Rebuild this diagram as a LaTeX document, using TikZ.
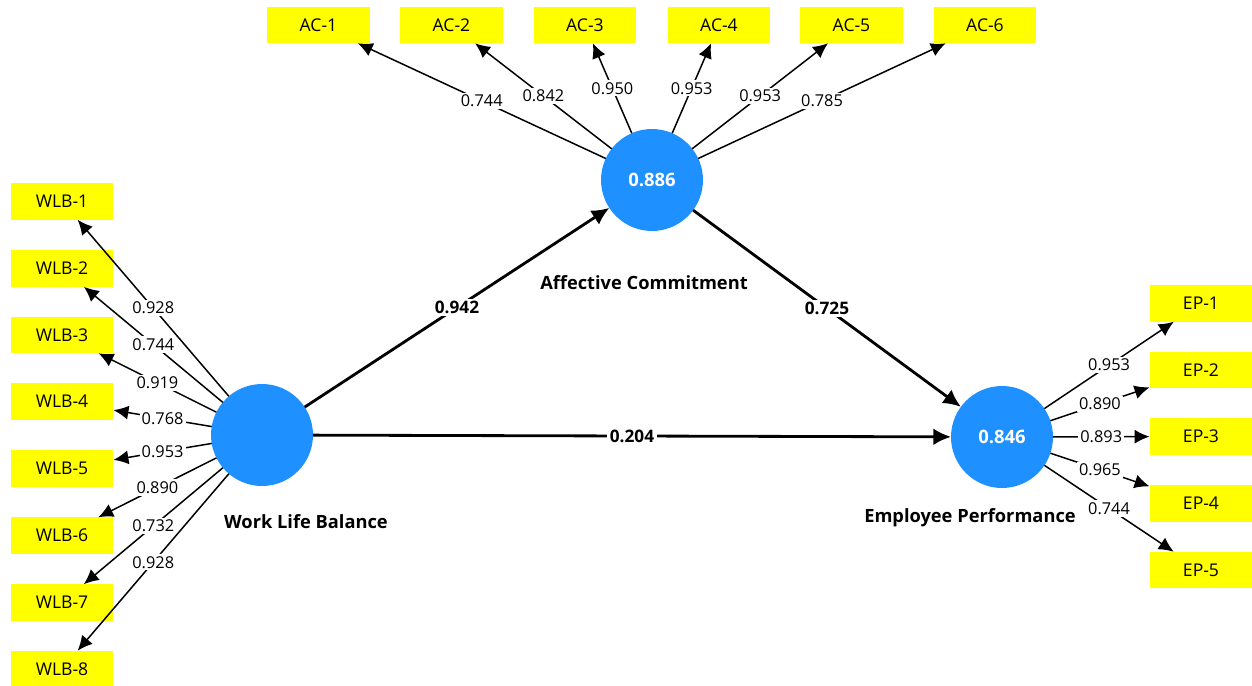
\documentclass[tikz,border=0pt]{standalone}
\usepackage{fontspec}
\setmainfont{Open Sans}
\usetikzlibrary{arrows.meta}
\definecolor{indyellow}{RGB}{255,255,0}
\definecolor{latblue}{RGB}{30,144,255}
\tikzset{
  indicator/.style={fill=indyellow, draw=none, minimum width=2.06cm, minimum height=0.73cm,
    inner sep=0pt, outer sep=0pt, font=\fontsize{10}{12}\selectfont},
  latent/.style={circle, fill=latblue, draw=none, minimum size=2.04cm, inner sep=0pt,
    outer sep=0pt, text=white, font=\fontsize{10.5}{12}\selectfont\bfseries},
  title/.style={font=\fontsize{10.4}{12}\selectfont\bfseries},
  loading/.style={draw=black, line width=0.85pt, -{Latex[length=8.5pt,width=8pt]}},
  pathc/.style={draw=black, line width=1.6pt, -{Latex[length=10pt,width=9.5pt]}},
  lval/.style={fill=white, inner sep=1.2pt, font=\fontsize{9.3}{10}\selectfont},
  pval/.style={fill=white, inner sep=1.5pt, font=\fontsize{9.8}{11}\selectfont\bfseries},
}
\begin{document}
\begin{tikzpicture}[x=0.02cm, y=-0.02cm]
\useasboundingbox (0,0) rectangle (1252,686);

% latent variables
\node[latent] (wlb) at (262,435) {};
\node[latent] (ac)  at (652,180) {0.886};
\node[latent] (ep)  at (1002,437) {0.846};

\node[title] (wlbt) at (306,522) {Work Life Balance};
\node[title] (act)  at (644,283) {Affective Commitment};
\node[title] (ept)  at (970,518) {Employee Performance};

% indicators of Affective Commitment
\node[indicator] (ac1) at (318.5,25) {AC-1};
\node[indicator] (ac2) at (451.5,25) {AC-2};
\node[indicator] (ac3) at (585,25) {AC-3};
\node[indicator] (ac4) at (719,25) {AC-4};
\node[indicator] (ac5) at (851.5,25) {AC-5};
\node[indicator] (ac6) at (985,25) {AC-6};

% indicators of Work Life Balance
\node[indicator] (wlb1) at (62,201.5) {WLB-1};
\node[indicator] (wlb2) at (62,268.5) {WLB-2};
\node[indicator] (wlb3) at (62,335) {WLB-3};
\node[indicator] (wlb4) at (62,401.5) {WLB-4};
\node[indicator] (wlb5) at (62,468.5) {WLB-5};
\node[indicator] (wlb6) at (62,535.5) {WLB-6};
\node[indicator] (wlb7) at (62,602.5) {WLB-7};
\node[indicator] (wlb8) at (62,669) {WLB-8};

% indicators of Employee Performance
\node[indicator] (ep1) at (1201,303.5) {EP-1};
\node[indicator] (ep2) at (1201,370) {EP-2};
\node[indicator] (ep3) at (1201,436.5) {EP-3};
\node[indicator] (ep4) at (1201,503.5) {EP-4};
\node[indicator] (ep5) at (1201,570) {EP-5};

% outer loadings
\draw[loading] (ac) -- node[lval] {0.744} (ac1);
\draw[loading] (ac) -- node[lval] {0.842} (ac2);
\draw[loading] (ac) -- node[lval] {0.950} (ac3);
\draw[loading] (ac) -- node[lval] {0.953} (ac4);
\draw[loading] (ac) -- node[lval] {0.953} (ac5);
\draw[loading] (ac) -- node[lval] {0.785} (ac6);

\draw[loading] (wlb) -- node[lval] {0.928} (wlb1);
\draw[loading] (wlb) -- node[lval] {0.744} (wlb2);
\draw[loading] (wlb) -- node[lval] {0.919} (wlb3);
\draw[loading] (wlb) -- node[lval] {0.768} (wlb4);
\draw[loading] (wlb) -- node[lval] {0.953} (wlb5);
\draw[loading] (wlb) -- node[lval] {0.890} (wlb6);
\draw[loading] (wlb) -- node[lval] {0.732} (wlb7);
\draw[loading] (wlb) -- node[lval] {0.928} (wlb8);

\draw[loading] (ep) -- node[lval] {0.953} (ep1);
\draw[loading] (ep) -- node[lval] {0.890} (ep2);
\draw[loading] (ep) -- node[lval] {0.893} (ep3);
\draw[loading] (ep) -- node[lval] {0.965} (ep4);
\draw[loading] (ep) -- node[lval] {0.744} (ep5);

% structural paths
\draw[pathc] (wlb) -- node[pval] {0.942} (ac);
\draw[pathc] (ac)  -- node[pval] {0.725} (ep);
\draw[pathc] (wlb) -- node[pval] {0.204} (ep);
\end{tikzpicture}
\end{document}
